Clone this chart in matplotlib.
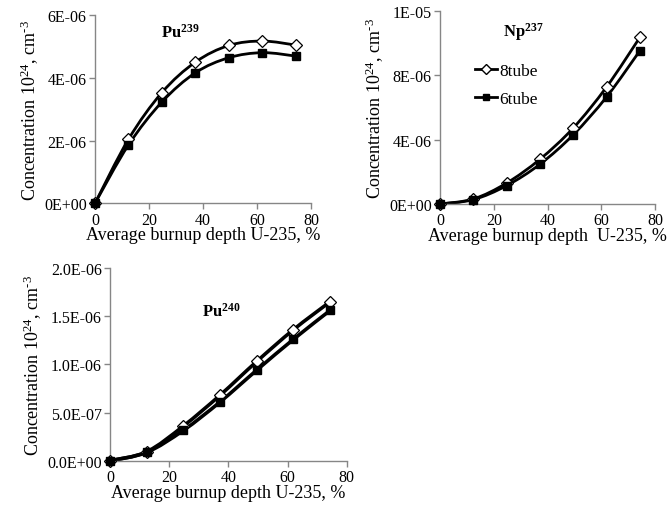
import matplotlib
matplotlib.use("Agg")
import matplotlib.pyplot as plt
from matplotlib.path import Path
from matplotlib.patches import PathPatch
from matplotlib.lines import Line2D
from matplotlib.ticker import FuncFormatter

plt.rcParams['font.family'] = ['Liberation Serif', 'DejaVu Serif']
plt.rcParams['mathtext.fontset'] = 'custom'
plt.rcParams['mathtext.rm'] = 'Liberation Serif'
plt.rcParams['mathtext.it'] = 'Liberation Serif:italic'
plt.rcParams['mathtext.bf'] = 'Liberation Serif:bold'

burnup = [0, 12.4, 24.8, 37.2, 49.6, 62.0, 74.4]

pu239_8tube = [0, 2.04e-6, 3.53e-6, 4.50e-6, 5.03e-6, 5.17e-6, 5.04e-6]
pu239_6tube = [0, 1.86e-6, 3.23e-6, 4.16e-6, 4.64e-6, 4.80e-6, 4.69e-6]

np237_8tube = [0, 0.31e-6, 1.30e-6, 2.78e-6, 4.72e-6, 7.27e-6, 10.35e-6]
np237_6tube = [0, 0.27e-6, 1.14e-6, 2.47e-6, 4.30e-6, 6.65e-6, 9.52e-6]

pu240_8tube = [0, 0.093e-6, 0.36e-6, 0.68e-6, 1.03e-6, 1.36e-6, 1.65e-6]
pu240_6tube = [0, 0.087e-6, 0.315e-6, 0.61e-6, 0.94e-6, 1.26e-6, 1.56e-6]

series_labels = ["8tube", "6tube"]
xlabel = "Average burnup depth U-235, %"
xlabel_np = "Average burnup depth  U-235, %"
ylabel = r"Concentration 10$^{24}$, cm$^{\text{-}3}$"

GRAY = "#868686"


def smooth_path(x, y):
    verts = [(x[0], y[0])]
    codes = [Path.MOVETO]
    n = len(x)
    for i in range(n - 1):
        x0, y0 = (x[i - 1], y[i - 1]) if i > 0 else (x[i], y[i])
        x1, y1 = x[i], y[i]
        x2, y2 = x[i + 1], y[i + 1]
        x3, y3 = (x[i + 2], y[i + 2]) if i + 2 < n else (x2, y2)
        c1 = (x1 + (x2 - x0) / 6.0, y1 + (y2 - y0) / 6.0)
        c2 = (x2 - (x3 - x1) / 6.0, y2 - (y3 - y1) / 6.0)
        verts += [c1, c2, (x2, y2)]
        codes += [Path.CURVE4] * 3
    return Path(verts, codes)


def style_axes(ax, xmax, ymax, ystep, yfmt):
    ax.set_xlim(0, xmax)
    ax.set_ylim(0, ymax)
    ax.set_xticks([0, 20, 40, 60, 80])
    yt = []
    v = 0.0
    while v <= ymax * 1.0001:
        yt.append(v)
        v += ystep
    ax.set_yticks(yt)
    ax.yaxis.set_major_formatter(FuncFormatter(lambda v, p: format(v, yfmt)))
    for s in ("top", "right"):
        ax.spines[s].set_visible(False)
    for s in ("left", "bottom"):
        ax.spines[s].set_color(GRAY)
        ax.spines[s].set_linewidth(1.0)
    ax.tick_params(direction="out", length=4, width=1, color=GRAY,
                   labelsize=11.5, pad=2)


def draw(ax, x, y8, y6, lw):
    for y in (y8, y6):
        ax.add_patch(PathPatch(smooth_path(x, y), fill=False, edgecolor="black",
                               lw=lw, zorder=2, clip_on=False))
    ax.plot(x, y8, ls="none", marker="D", ms=6, mfc="white", mec="black",
            mew=0.9, zorder=3, clip_on=False)
    ax.plot(x, y6, ls="none", marker="s", ms=6, mfc="black", mec="black",
            zorder=3, clip_on=False)


fig = plt.figure(figsize=(6.67, 5.06), dpi=100)

ax1 = fig.add_axes([0.1424, 0.5962, 0.3239, 0.3722])
style_axes(ax1, 80, 6e-6, 2e-6, ".0E")
draw(ax1, burnup, pu239_8tube, pu239_6tube, 2.0)
ax1.set_xlabel(xlabel, fontsize=13, labelpad=-1)
ax1.set_ylabel(ylabel, fontsize=13, labelpad=2)
ax1.text(31.5, 5.46e-6, r"$\mathbf{Pu}^{\mathbf{239}}$", fontsize=12,
         ha="center", va="center")

ax2 = fig.add_axes([0.6597, 0.5949, 0.3223, 0.382])
style_axes(ax2, 80, 1.2e-5, 4e-6, ".0E")
draw(ax2, burnup, np237_8tube, np237_6tube, 2.0)
ax2.set_xlabel(xlabel_np, fontsize=13, labelpad=-1)
ax2.set_ylabel(ylabel, fontsize=13, labelpad=2)
ax2.text(30.9, 10.75e-6, r"$\mathbf{Np}^{\mathbf{237}}$", fontsize=12,
         ha="center", va="center")
handles = [
    Line2D([], [], color="black", lw=2, marker="D", ms=5, mfc="white", mec="black"),
    Line2D([], [], color="black", lw=2, marker="s", ms=5, mfc="black", mec="black"),
]
ax2.legend(handles, series_labels, loc="upper left", bbox_to_anchor=(0.13, 0.765),
           frameon=False, fontsize=12.5, handlelength=1.3, handletextpad=0.1,
           labelspacing=0.65, borderaxespad=0)

ax3 = fig.add_axes([0.1649, 0.0875, 0.3549, 0.3809])
style_axes(ax3, 80, 2e-6, 5e-7, ".1E")
draw(ax3, burnup, pu240_8tube, pu240_6tube, 2.6)
ax3.set_xlabel(xlabel, fontsize=13, labelpad=-1)
ax3.set_ylabel(ylabel, fontsize=13, labelpad=2)
ax3.text(37.5, 1.556e-6, r"$\mathbf{Pu}^{\mathbf{240}}$", fontsize=12,
         ha="center", va="center")

fig.savefig("out.png", dpi=100)
